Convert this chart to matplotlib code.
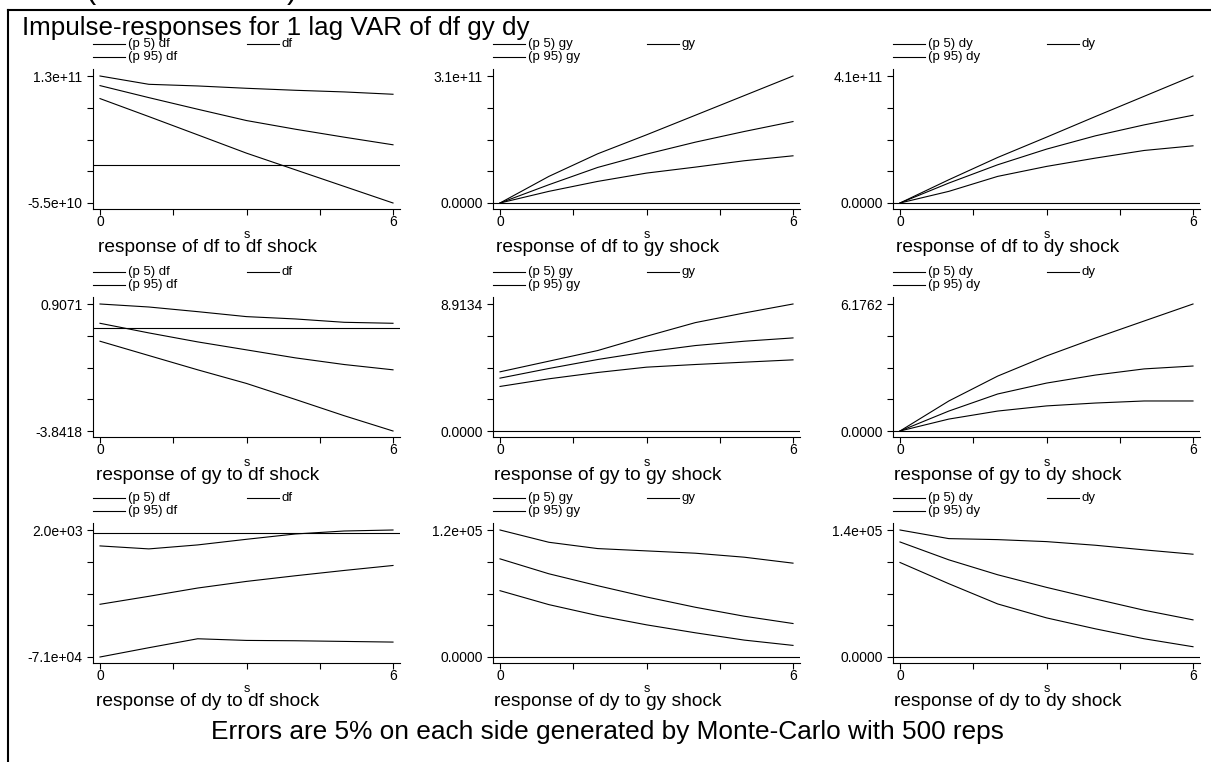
import numpy as np
import matplotlib
matplotlib.use("Agg")
import matplotlib.pyplot as plt
from matplotlib.lines import Line2D

# impulse responses, 1 lag VAR of df gy dy
steps = [0, 1, 2, 3, 4, 5, 6]
variables = ["df", "gy", "dy"]

# response of df to ... shock
df_df_p5 = [0.971e11, 0.709e11, 0.443e11, 0.176e11, -0.066e11, -0.308e11, -0.55e11]
df_df_irf = [1.16e11, 0.985e11, 0.816e11, 0.651e11, 0.525e11, 0.409e11, 0.298e11]
df_df_p95 = [1.30e11, 1.179e11, 1.155e11, 1.121e11, 1.092e11, 1.068e11, 1.034e11]

df_gy_p5 = [0, 0.284e11, 0.527e11, 0.730e11, 0.876e11, 1.031e11, 1.152e11]
df_gy_irf = [0, 0.446e11, 0.868e11, 1.193e11, 1.485e11, 1.745e11, 1.988e11]
df_gy_p95 = [0, 0.649e11, 1.201e11, 1.664e11, 2.142e11, 2.621e11, 3.1e11]

df_dy_p5 = [0, 0.376e11, 0.859e11, 1.181e11, 1.449e11, 1.696e11, 1.846e11]
df_dy_irf = [0, 0.644e11, 1.234e11, 1.739e11, 2.168e11, 2.522e11, 2.833e11]
df_dy_p95 = [0, 0.751e11, 1.470e11, 2.125e11, 2.791e11, 3.445e11, 4.1e11]

# response of gy to ... shock
gy_df_p5 = [-0.485, -1.020, -1.554, -2.064, -2.661, -3.270, -3.8418]
gy_df_irf = [0.186, -0.174, -0.510, -0.808, -1.107, -1.356, -1.554]
gy_df_p95 = [0.9071, 0.795, 0.621, 0.435, 0.348, 0.223, 0.186]

gy_gy_p5 = [3.127, 3.663, 4.107, 4.480, 4.667, 4.830, 4.993]
gy_gy_irf = [3.710, 4.387, 5.017, 5.553, 5.997, 6.300, 6.533]
gy_gy_p95 = [4.153, 4.900, 5.647, 6.650, 7.607, 8.283, 8.9134]

gy_dy_p5 = [0, 0.58, 0.97, 1.22, 1.36, 1.46, 1.46]
gy_dy_irf = [0, 0.97, 1.80, 2.33, 2.72, 3.02, 3.16]
gy_dy_p95 = [0, 1.46, 2.67, 3.65, 4.52, 5.35, 6.1762]

# response of dy to ... shock
dy_df_p5 = [-71000, -65663, -60517, -61470, -61661, -62042, -62423]
dy_df_irf = [-40694, -36120, -31355, -27543, -24303, -21253, -18394]
dy_df_p95 = [-7149, -8864, -6577, -3337, -287, 1428, 2000]

dy_gy_p5 = [0.6266e5, 0.4950e5, 0.3916e5, 0.3039e5, 0.2287e5, 0.1598e5, 0.1097e5]
dy_gy_irf = [0.9274e5, 0.7864e5, 0.6736e5, 0.5671e5, 0.4700e5, 0.3854e5, 0.3164e5]
dy_gy_p95 = [1.2e5, 1.0841e5, 1.0245e5, 1.0026e5, 0.9807e5, 0.9431e5, 0.8867e5]

dy_dy_p5 = [1.042e5, 0.8078e5, 0.5849e5, 0.4313e5, 0.3107e5, 0.2010e5, 0.1133e5]
dy_dy_irf = [1.268e5, 1.071e5, 0.9065e5, 0.7676e5, 0.6397e5, 0.5154e5, 0.4094e5]
dy_dy_p95 = [1.4e5, 1.305e5, 1.294e5, 1.272e5, 1.232e5, 1.181e5, 1.133e5]

panels = [
    [(df_df_p5, df_df_irf, df_df_p95), (df_gy_p5, df_gy_irf, df_gy_p95), (df_dy_p5, df_dy_irf, df_dy_p95)],
    [(gy_df_p5, gy_df_irf, gy_df_p95), (gy_gy_p5, gy_gy_irf, gy_gy_p95), (gy_dy_p5, gy_dy_irf, gy_dy_p95)],
    [(dy_df_p5, dy_df_irf, dy_df_p95), (dy_gy_p5, dy_gy_irf, dy_gy_p95), (dy_dy_p5, dy_dy_irf, dy_dy_p95)],
]

plt.rcParams['font.family'] = ['Liberation Sans', 'DejaVu Sans']

W, H = 1211, 762
fig = plt.figure(figsize=(W / 100, H / 100), dpi=100)


def fx(x):
    return x / W


def fy(y):
    return 1 - y / H


def fmt(v):
    # stata style axis labels
    if v == 0 or abs(v) < 100:
        return "%.4f" % v
    return "%.1e" % v


col_left = [93, 493, 893]
row_top = [69, 297, 523]
ax_w, ax_h = 307, 140
lw = 0.8

for i in range(3):
    for j in range(3):
        l, t = col_left[j], row_top[i]
        p5, irf, p95 = panels[i][j]
        ax = fig.add_axes([fx(l), fy(t + ax_h), ax_w / W, ax_h / H])
        ax.patch.set_visible(False)
        for s in (p5, irf, p95):
            ax.plot(steps, s, color="black", lw=lw)
        ax.axhline(0, color="black", lw=lw)

        ymin = min(min(p5), min(irf), min(p95), 0)
        ymax = max(max(p5), max(irf), max(p95), 0)
        span = ymax - ymin
        ax.set_ylim(ymin - 6 / 127 * span, ymax + 7 / 127 * span)
        ax.set_xlim(-7 / 48.83, 6 + 7 / 48.83)
        ax.set_yticks(np.linspace(ymin, ymax, 5))
        ax.set_yticklabels([fmt(ymin), "", "", "", fmt(ymax)])
        ax.set_xticks([0, 1.5, 3, 4.5, 6])
        ax.set_xticklabels(["0", "", "", "", "6"])
        for side in ("top", "right"):
            ax.spines[side].set_visible(False)
        for side in ("left", "bottom"):
            ax.spines[side].set_linewidth(lw)
        ax.tick_params(length=4, width=lw, direction="out", labelsize=10)
        ax.tick_params(axis="y", pad=3.5)
        ax.tick_params(axis="x", pad=0.5)

        fig.text(fx(l + ax_w / 2), fy(t + 166), "s", fontsize=9, ha="center", va="center")
        fig.text(fx(l + 115), fy(t + 179),
                 "response of %s to %s shock" % (variables[i], variables[j]),
                 fontsize=13.8, ha="center", va="center")

        # legend
        v = variables[j]
        for k, (x0, y0, lab) in enumerate([(0, -25, "(p 5) " + v), (154, -25, v), (0, -12, "(p 95) " + v)]):
            fig.add_artist(Line2D([fx(l + x0), fx(l + x0 + 32)], [fy(t + y0), fy(t + y0)],
                                  transform=fig.transFigure, color="black", lw=lw))
            fig.text(fx(l + x0 + 35), fy(t + y0), lab, fontsize=9.5, ha="left", va="center")

# outer frame (cut off at right and bottom)
fig.add_artist(Line2D([fx(8), fx(8)], [fy(10), 0], transform=fig.transFigure, color="black", lw=1.5))
fig.add_artist(Line2D([fx(8), 1], [fy(10), fy(10)], transform=fig.transFigure, color="black", lw=1.5))
# bits of a title above the frame, mostly outside the image
fig.text(fx(85), fy(-2), "(", fontsize=22, va="baseline")
fig.text(fx(287), fy(-2), ")", fontsize=22, va="baseline")

fig.text(fx(22), fy(35), "Impulse-responses for 1 lag VAR of df gy dy", fontsize=18.7, va="baseline")
fig.text(fx(607), fy(739), "Errors are 5% on each side generated by Monte-Carlo with 500 reps",
         fontsize=18.9, ha="center", va="baseline")

fig.savefig("out.png", dpi=100)
